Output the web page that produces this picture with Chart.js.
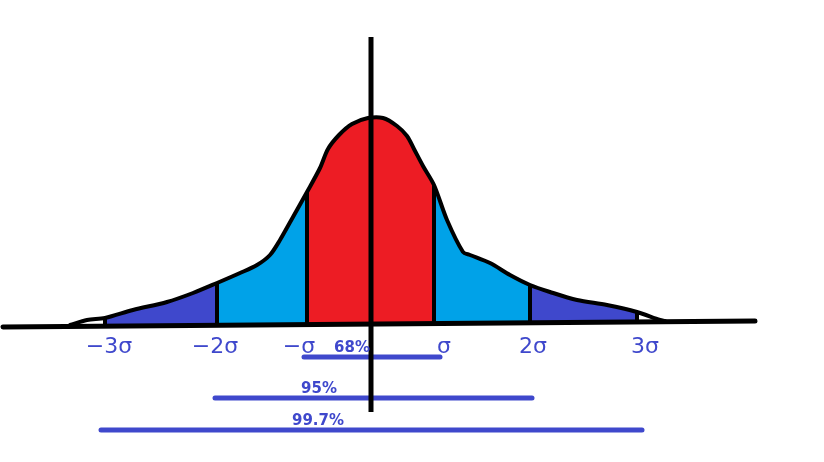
<!DOCTYPE html>
<html>
<head>
<meta charset="utf-8">
<script src="https://cdn.jsdelivr.net/npm/chart.js@4/dist/chart.umd.min.js"></script>
<style>
  html, body { margin: 0; padding: 0; background: #fff; }
  #wrap { width: 824px; height: 462px; position: relative; }
</style>
</head>
<body>
<div id="wrap"><canvas id="c"></canvas></div>
<script>
// bell curve (x: offset from the mean, y: height above the baseline)
const curveX = [-302, -285, -267, -239, -205, -179, -155, -132, -115, -102, -92, -79, -65, -52, -44, -33, -20, -4, 11, 25, 35, 42, 51, 62, 75, 91, 98, 118, 138, 158, 178, 205, 235, 265, 288, 293]
const curveY = [-1, 4, 6, 14, 22, 31, 41, 51, 59, 69, 84, 107, 132, 156, 175, 189, 200, 206, 206, 198, 188, 175, 158, 139, 104, 72, 69, 61, 49, 39, 32, 24, 19, 12, 4, 3]

// sigma marks along the x axis
const sigmaX = [-267, -155, -65, 62, 158, 265]
const sigmaLabels = ['−3σ', '−2σ', '−σ', 'σ', '2σ', '3σ']

// coverage ranges under the axis
const rangeLabels = ['68%', '95%', '99.7%']
const rangeFrom = [-68, -157, -271]
const rangeTo = [68, 160, 270]
const rangeLevel = [-33, -74, -106]

// axes of the drawing
const baseX = [-369, 383]
const baseY = [-3, 3]
const axisY = [287, -88]

const RED = '#ed1c24', LIGHT = '#00a2e8', DARK = '#3f48cc'
const bandColors = [DARK, LIGHT, RED, LIGHT, DARK]

const curve = curveX.map((x, i) => ({ x, y: curveY[i] }))
const heightAt = x => curve.find(p => p.x === x).y

const datasets = []

// coloured bands between sigma marks
for (let i = 0; i < sigmaX.length - 1; i++) {
  datasets.push({
    data: curve.filter(p => p.x >= sigmaX[i] && p.x <= sigmaX[i + 1]),
    showLine: true, fill: 'origin', backgroundColor: bandColors[i],
    borderWidth: 0, borderColor: 'rgba(0,0,0,0)', pointRadius: 0, tension: 0.3, order: 5
  })
}

// curve outline
datasets.push({
  data: curve, showLine: true, fill: false, borderColor: '#000', borderWidth: 4,
  pointRadius: 0, tension: 0.3, borderCapStyle: 'round', borderJoinStyle: 'round', order: 1
})

// dividers at each sigma
sigmaX.forEach(x => {
  datasets.push({
    data: [{ x, y: 0 }, { x, y: heightAt(x) }], showLine: true, borderColor: '#000',
    borderWidth: 4, pointRadius: 0, order: 1
  })
})

// baseline and vertical axis
datasets.push({
  data: [{ x: baseX[0], y: baseY[0] }, { x: baseX[1], y: baseY[1] }], showLine: true,
  borderColor: '#000', borderWidth: 5, pointRadius: 0, borderCapStyle: 'round', order: 0
})
datasets.push({
  data: [{ x: -1, y: axisY[0] }, { x: -1, y: axisY[1] }], showLine: true,
  borderColor: '#000', borderWidth: 5, pointRadius: 0, order: 0
})

// range bars
rangeLabels.forEach((_, i) => {
  datasets.push({
    data: [{ x: rangeFrom[i], y: rangeLevel[i] }, { x: rangeTo[i], y: rangeLevel[i] }],
    showLine: true, borderColor: DARK, borderWidth: 5, pointRadius: 0,
    borderCapStyle: 'round', order: 2
  })
})

const textPlugin = {
  id: 'texts',
  afterDatasetsDraw(chart) {
    const { ctx, scales: { x, y } } = chart
    ctx.save()
    ctx.fillStyle = DARK
    ctx.textAlign = 'center'
    ctx.textBaseline = 'middle'
    ctx.font = '22px "DejaVu Sans"'
    const nudge = [4, -2, -8, 10, 3, 8]
    sigmaLabels.forEach((t, i) => {
      ctx.fillText(t, x.getPixelForValue(sigmaX[i]) + nudge[i], y.getPixelForValue(-23))
    })
    const shift = [-20, -53, -54]
    ctx.font = 'bold 15px "DejaVu Sans"'
    ctx.textBaseline = 'alphabetic'
    rangeLabels.forEach((t, i) => {
      ctx.fillText(t, x.getPixelForValue(0) + shift[i], y.getPixelForValue(rangeLevel[i]) - 5)
    })
    ctx.restore()
  }
}

new Chart(document.getElementById('c'), {
  type: 'scatter',
  data: { datasets },
  options: {
    responsive: true,
    maintainAspectRatio: false,
    animation: false,
    events: [],
    layout: { padding: 0 },
    plugins: { legend: { display: false }, tooltip: { enabled: false } },
    scales: {
      x: { type: 'linear', min: -372, max: 452, display: false },
      y: { type: 'linear', min: -138, max: 324, display: false }
    }
  },
  plugins: [textPlugin]
})
</script>
</body>
</html>
